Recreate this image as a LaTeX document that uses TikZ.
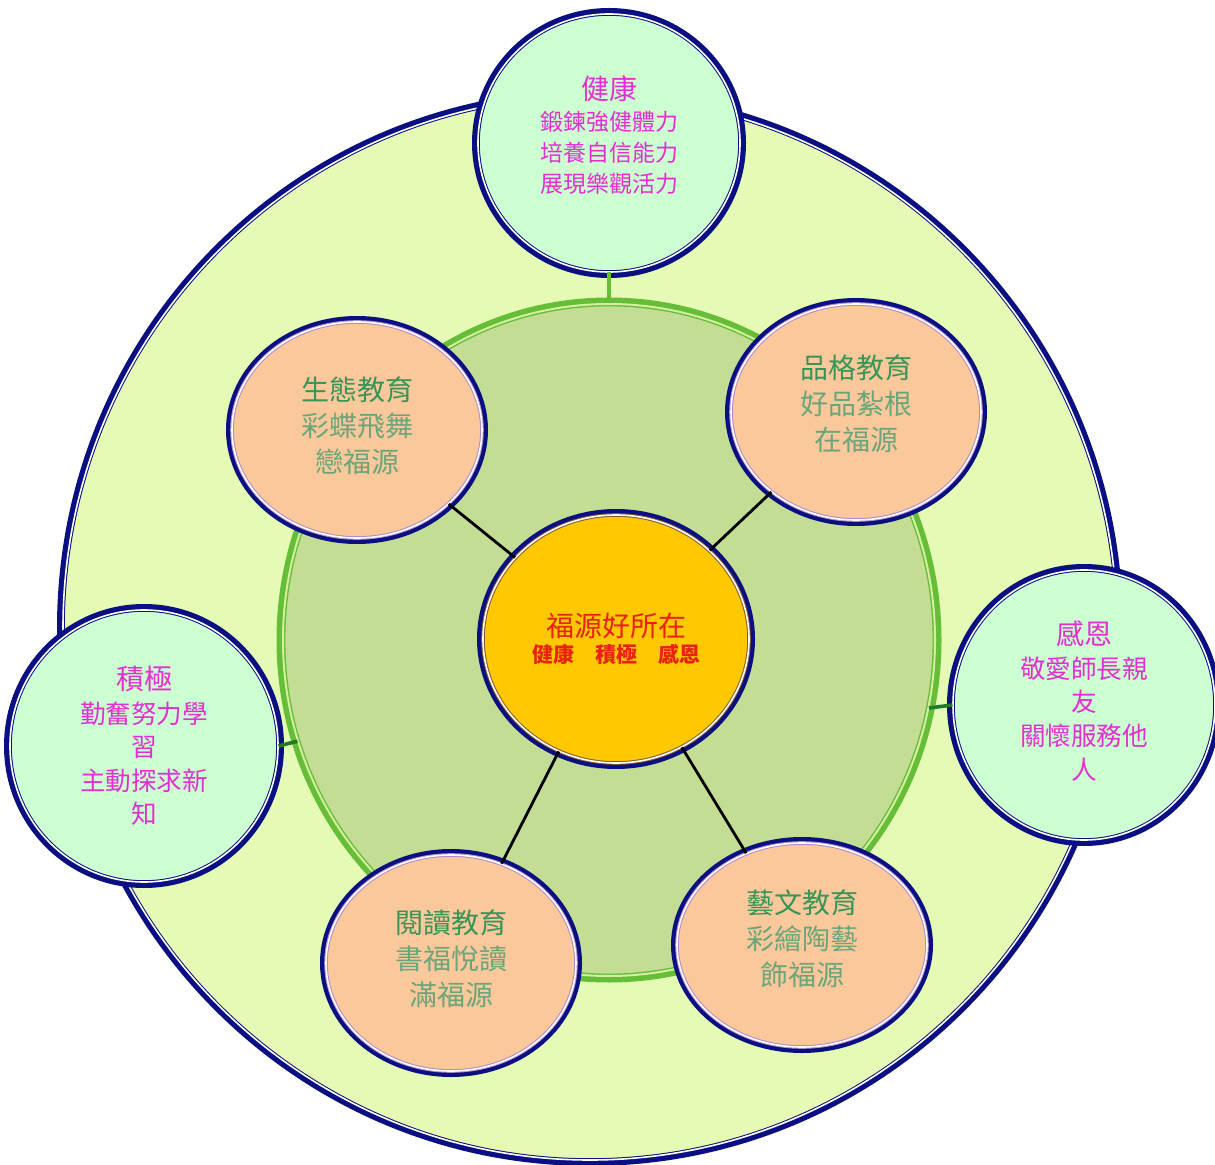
\documentclass[tikz,border=0pt]{standalone}
\usepackage{fontspec}
\newfontfamily\cjk{Noto Sans CJK TC}
\usetikzlibrary{shapes.geometric}

\definecolor{navyline}{HTML}{0A0F82}
\definecolor{palelime}{HTML}{E5FAB4}
\definecolor{sage}{HTML}{C4DD94}
\definecolor{ringgreen}{HTML}{66BE38}
\definecolor{ringlight}{HTML}{D3EEA0}
\definecolor{mint}{HTML}{CCFFD2}
\definecolor{peach}{HTML}{FBC89B}
\definecolor{gold}{HTML}{FFC800}
\definecolor{pinktext}{HTML}{E42FD0}
\definecolor{titlegreen}{HTML}{379557}
\definecolor{subgreen}{HTML}{6AA67A}
\definecolor{hubred}{HTML}{E8220C}
\definecolor{tiegreen}{HTML}{1F7A2B}
\definecolor{lilac}{HTML}{B08AC8}

\newcommand{\goaltitle}[1]{{\fontsize{14pt}{17pt}\selectfont #1}}
\newcommand{\edutitle}[1]{{\color{titlegreen}#1}}

\begin{document}
\begin{tikzpicture}[x=0.5pt, y=-0.5pt,
  ring/.style={preaction={draw=navyline, line width=6pt}, draw=#1,
    line width=0.5pt, double=white, double distance=0.8pt},
  goal/.style={ellipse, ring=navyline, fill=mint, inner sep=0pt, align=center,
    text=pinktext, font=\cjk\fontsize{12.8pt}{16.8pt}\selectfont},
  edu/.style={ellipse, ring=lilac, fill=peach, inner sep=0pt, align=center,
    minimum width=125pt, minimum height=108pt, text=subgreen,
    font=\cjk\fontsize{14pt}{18pt}\selectfont},
  hub/.style={ellipse, ring=brown!70!black, fill=gold, inner sep=0pt, align=center,
    minimum width=133pt, minimum height=124pt, text=hubred},
  spoke/.style={draw=black, line width=1.4pt},
  tie/.style={draw=tiegreen, line width=1.8pt}]

\fill[white] (0,0) rectangle (1215,1165);
\useasboundingbox (0,0) rectangle (1215,1165);

% rings
\node[ellipse, ring=navyline, fill=palelime, minimum width=527pt, minimum height=532pt] (outer) at (590,628) {};
\node[ellipse, preaction={draw=ringgreen, line width=6.5pt}, draw=ringgreen, line width=0.7pt,
  double=ringlight, double distance=1pt, fill=sage,
  minimum width=326pt, minimum height=336pt] (inner) at (609,640) {};

% three goals
\node[goal, minimum width=131pt, minimum height=129pt,
  font=\cjk\fontsize{11.5pt}{15.5pt}\selectfont] (health) at (609,143)
  {\goaltitle{健康}\\鍛鍊強健體力\\培養自信能力\\展現樂觀活力\\[-6.5pt]};
\node[goal, minimum width=134pt, minimum height=136pt] (active) at (144,746)
  {\goaltitle{積極}\\勤奮努力學\\習\\主動探求新\\知};
\node[goal, minimum width=131pt, minimum height=135pt] (thanks) at (1084,705)
  {\mbox{}\\[-9pt]\goaltitle{感恩}\\敬愛師長親\\友\\關懷服務他\\人};

% four education areas
\node[edu] (eco) at (357,430) {\edutitle{生態教育}\\彩蝶飛舞\\戀福源\\[-13pt]};
\node[edu] (virtue) at (856,412) {\edutitle{品格教育}\\好品紮根\\在福源\\[-9pt]};
\node[edu] (reading) at (451,963) {\edutitle{閱讀教育}\\書福悅讀\\滿福源\\[-13pt]};
\node[edu, minimum height=102pt] (arts) at (802,945) {\edutitle{藝文教育}\\彩繪陶藝\\飾福源\\[-11pt]};

% centre
\node[hub] (hub) at (616,639)
  {{\cjk\fontsize{14pt}{17pt}\selectfont 福源好所在}\\[1pt]
   {\cjk\bfseries\fontsize{10.5pt}{13pt}\selectfont 健康\quad 積極\quad 感恩}};

\draw[spoke] (hub) -- (eco);
\draw[spoke] (hub) -- (virtue);
\draw[spoke] (hub) -- (reading);
\draw[spoke] (hub) -- (arts);

\draw[tie, draw=ringgreen] (health) -- (inner.north);
\draw[tie] (active.east) -- (inner.198);
\draw[tie] (thanks.west) -- (inner.-12);
\end{tikzpicture}
\end{document}
